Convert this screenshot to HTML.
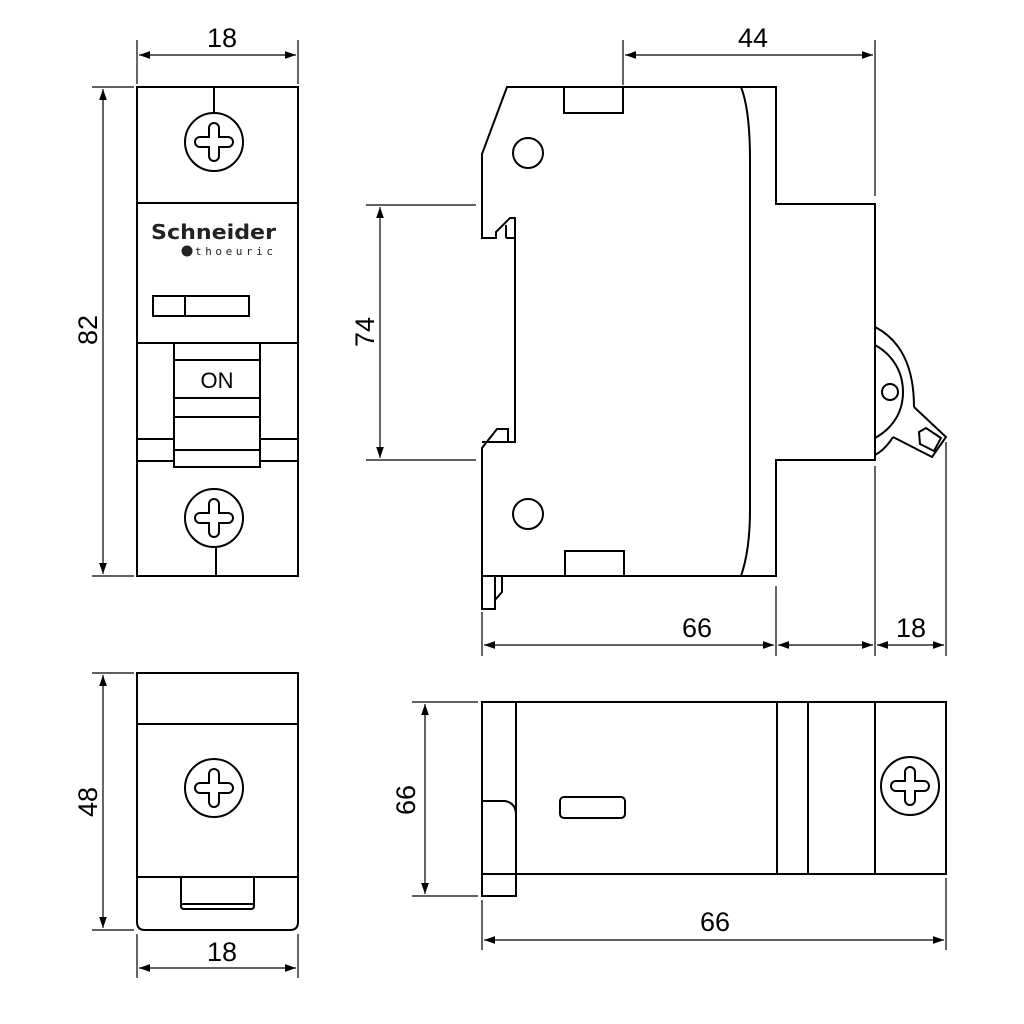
<!DOCTYPE html>
<html><head><meta charset="utf-8"><style>html,body{margin:0;padding:0;background:#fff}svg{display:block}</style></head>
<body>
<svg width="1024" height="1024" viewBox="0 0 1024 1024" xmlns="http://www.w3.org/2000/svg">
<defs>
<marker id="a" viewBox="0 0 10 10" refX="10" refY="5" markerWidth="11" markerHeight="11" markerUnits="userSpaceOnUse" orient="auto-start-reverse"><path d="M0,1.5 L10,5 L0,8.5 Z" fill="#000"/></marker>
<g id="scr"><circle r="29" fill="none" stroke="#000" stroke-width="2"/><path d="M-5,-14 A5,5 0 0 1 5,-14 L5,-5 L14,-5 A5,5 0 0 1 14,5 L5,5 L5,14 A5,5 0 0 1 -5,14 L-5,5 L-14,5 A5,5 0 0 1 -14,-5 L-5,-5 Z" fill="none" stroke="#000" stroke-width="2"/></g>
</defs>
<g fill="none" stroke="#000" stroke-width="2">
<rect x="137" y="87" width="161" height="489"/>
<line x1="214" y1="87" x2="214" y2="113"/>
<line x1="137" y1="203" x2="298" y2="203"/>
<rect x="153" y="296" width="96" height="20"/>
<line x1="185" y1="296" x2="185" y2="316"/>
<line x1="137" y1="343" x2="298" y2="343"/>
<rect x="174" y="343" width="86" height="124"/>
<line x1="174" y1="360" x2="260" y2="360"/>
<line x1="174" y1="398" x2="260" y2="398"/>
<line x1="174" y1="417" x2="260" y2="417"/>
<line x1="174" y1="450" x2="260" y2="450"/>
<line x1="137" y1="439" x2="174" y2="439"/><line x1="260" y1="439" x2="298" y2="439"/>
<line x1="137" y1="461" x2="174" y2="461"/><line x1="260" y1="461" x2="298" y2="461"/>
<line x1="216" y1="547" x2="216" y2="576"/>
<path d="M507,87 L776,87 L776,204 L875,204 L875,460 L776,460 L776,576 L482,576 L482,448 L497,429 L508,429 L508,442 L515,442 L515,218 L510,218 L496,232 L496,238 L482,238 L482,154 Z"/>
<line x1="506" y1="238" x2="515" y2="238"/><line x1="506" y1="225" x2="506" y2="238"/>
<line x1="482" y1="442" x2="508" y2="442"/>
<rect x="564" y="87" width="59" height="26"/>
<rect x="565" y="551" width="59" height="25"/>
<circle cx="528" cy="153" r="15"/><circle cx="528" cy="514" r="15"/>
<path d="M741,87 Q750,110 750,160 L750,510 Q750,550 741,576"/>
<path d="M482,576 L482,609 L495,609 L495,576"/><path d="M495,600 L502,592 L502,576"/>
<path d="M875,327 C900,340 914,365 914,407"/>
<path d="M893,437 Q885,450 875,455"/>
<path d="M875,345 C893,355 903,372 903,392 C903,412 893,428 875,438"/>
<circle cx="890" cy="392" r="8"/>
<path d="M914,407 L946,437 L932,457 L893,437"/>
<path d="M919,432 L926,428 L941,438 L934,451 L920,444 Z"/>
<path d="M137,673 L298,673 L298,922 Q298,930 290,930 L145,930 Q137,930 137,922 Z"/>
<line x1="137" y1="724" x2="298" y2="724"/>
<line x1="137" y1="877" x2="298" y2="877"/>
<path d="M181,877 L181,906 Q181,909 184,909 L251,909 Q254,909 254,906 L254,877"/>
<line x1="182" y1="904" x2="253" y2="904"/>
<rect x="482" y="702" width="464" height="172"/>
<path d="M482,874 L482,896 L516,896 L516,702"/>
<path d="M482,801 L505,801 Q516,803 516,815"/>
<line x1="777" y1="702" x2="777" y2="874"/>
<line x1="808" y1="702" x2="808" y2="874"/>
<line x1="875" y1="702" x2="875" y2="874"/>
<rect x="560" y="797" width="65" height="21" rx="4"/>
</g>
<use href="#scr" x="214" y="142"/>
<use href="#scr" x="214" y="518"/>
<use href="#scr" x="214" y="788"/>
<use href="#scr" x="910" y="786"/>
<g stroke="#000" stroke-width="1.2" fill="none">
<line x1="137" y1="40" x2="137" y2="84"/><line x1="298" y1="40" x2="298" y2="84"/>
<line x1="139" y1="55" x2="296" y2="55" marker-start="url(#a)" marker-end="url(#a)"/>
<line x1="92" y1="87" x2="134" y2="87"/><line x1="92" y1="576" x2="134" y2="576"/>
<line x1="103" y1="89" x2="103" y2="574" marker-start="url(#a)" marker-end="url(#a)"/>
<line x1="623" y1="40" x2="623" y2="85"/><line x1="875" y1="40" x2="875" y2="196"/>
<line x1="625" y1="55" x2="873" y2="55" marker-start="url(#a)" marker-end="url(#a)"/>
<line x1="366" y1="205" x2="476" y2="205"/><line x1="366" y1="460" x2="476" y2="460"/>
<line x1="380" y1="207" x2="380" y2="458" marker-start="url(#a)" marker-end="url(#a)"/>
<line x1="482" y1="612" x2="482" y2="656"/><line x1="776" y1="586" x2="776" y2="656"/>
<line x1="875" y1="466" x2="875" y2="656"/><line x1="946" y1="442" x2="946" y2="656"/>
<line x1="484" y1="645" x2="774" y2="645" marker-start="url(#a)" marker-end="url(#a)"/>
<line x1="778" y1="645" x2="873" y2="645" marker-start="url(#a)" marker-end="url(#a)"/>
<line x1="877" y1="645" x2="944" y2="645" marker-start="url(#a)" marker-end="url(#a)"/>
<line x1="92" y1="673" x2="134" y2="673"/><line x1="92" y1="930" x2="134" y2="930"/>
<line x1="103" y1="675" x2="103" y2="928" marker-start="url(#a)" marker-end="url(#a)"/>
<line x1="137" y1="934" x2="137" y2="978"/><line x1="298" y1="934" x2="298" y2="978"/>
<line x1="139" y1="968" x2="296" y2="968" marker-start="url(#a)" marker-end="url(#a)"/>
<line x1="412" y1="702" x2="478" y2="702"/><line x1="412" y1="896" x2="478" y2="896"/>
<line x1="425" y1="704" x2="425" y2="894" marker-start="url(#a)" marker-end="url(#a)"/>
<line x1="482" y1="900" x2="482" y2="950"/><line x1="946" y1="878" x2="946" y2="950"/>
<line x1="484" y1="940" x2="944" y2="940" marker-start="url(#a)" marker-end="url(#a)"/>
</g>
<g font-family="Liberation Sans, sans-serif" font-size="27" fill="#000" text-anchor="middle">
<text x="222" y="47">18</text>
<text x="753" y="47">44</text>
<text x="697" y="637">66</text>
<text x="911" y="637">18</text>
<text x="222" y="961">18</text>
<text x="715" y="931">66</text>
<text transform="translate(97,330) rotate(-90)">82</text>
<text transform="translate(374,332) rotate(-90)">74</text>
<text transform="translate(97,802) rotate(-90)">48</text>
<text transform="translate(415,800) rotate(-90)">66</text>
<text x="217" y="388" font-size="22">ON</text>
</g>
<text x="151" y="239" font-family="DejaVu Sans, sans-serif" font-size="20" font-weight="bold" fill="#222" textLength="125" lengthAdjust="spacingAndGlyphs">Schneider</text>
<circle cx="187" cy="251" r="5.5" fill="#222"/>
<text x="195" y="255" font-family="DejaVu Sans Mono, monospace" font-size="11" fill="#222" textLength="78" lengthAdjust="spacing">thoeuric</text>
</svg>
</body></html>
